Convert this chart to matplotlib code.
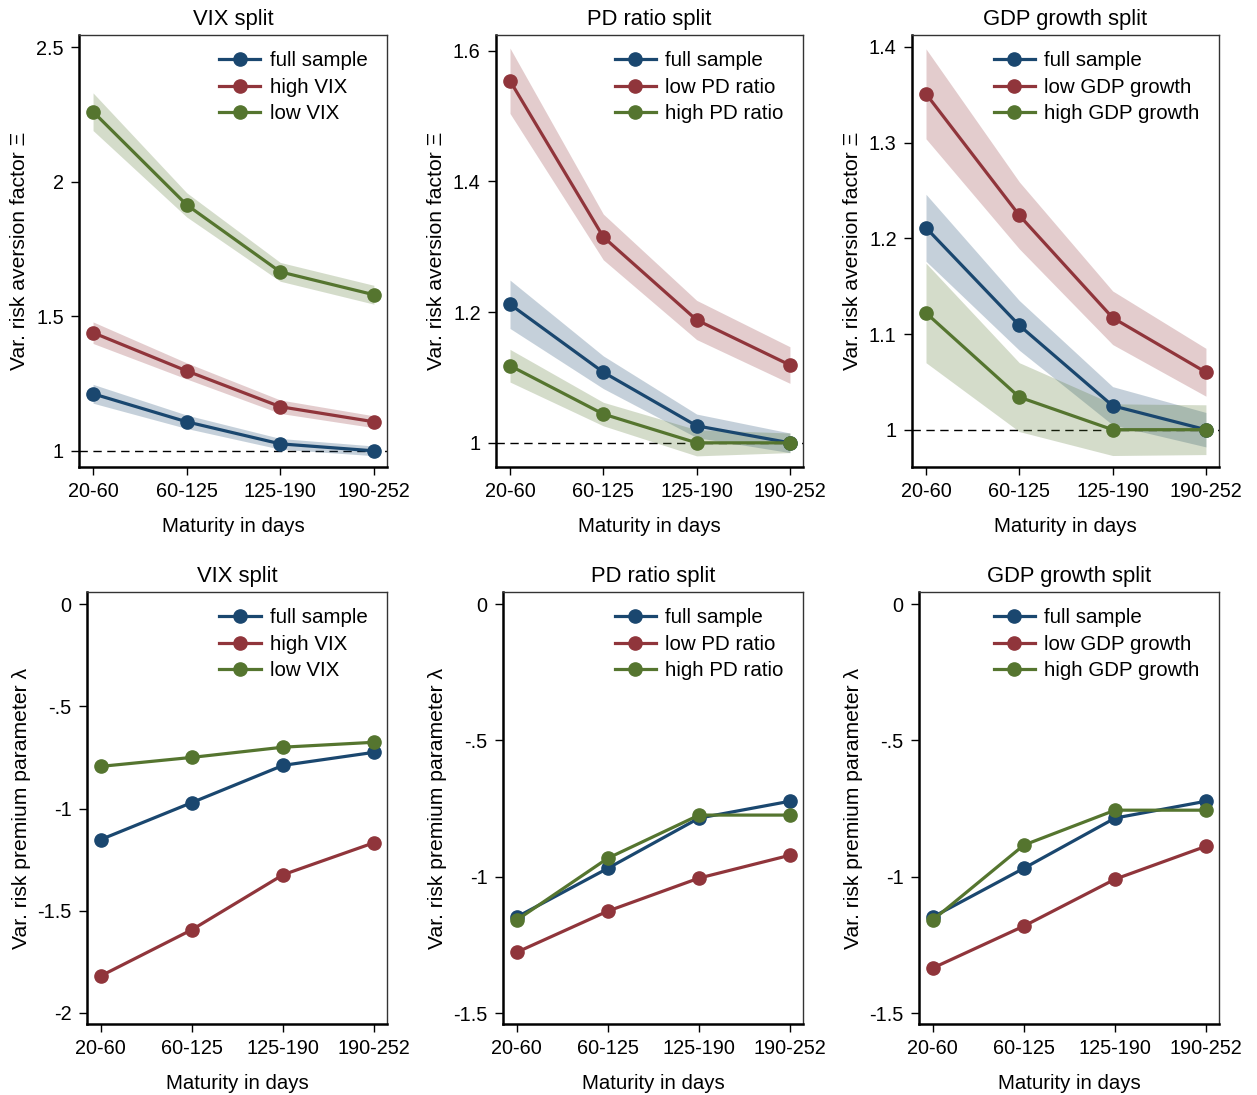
import matplotlib
matplotlib.use("Agg")
import matplotlib.pyplot as plt
import numpy as np

plt.rcParams['font.family'] = ['Liberation Sans', 'DejaVu Sans']

maturities = ["20-60", "60-125", "125-190", "190-252"]

# Top row: variance risk aversion factor (point, band half-width)
vix_full = [1.212, 1.108, 1.026, 1.0]
vix_full_ci = [0.035, 0.025, 0.02, 0.018]
vix_high = [1.439, 1.297, 1.164, 1.108]
vix_high_ci = [0.04, 0.03, 0.025, 0.022]
vix_low = [2.26, 1.914, 1.665, 1.58]
vix_low_ci = [0.07, 0.045, 0.035, 0.035]

pd_full = [1.212, 1.108, 1.026, 1.0]
pd_full_ci = [0.037, 0.025, 0.018, 0.015]
pd_low = [1.554, 1.315, 1.188, 1.119]
pd_low_ci = [0.05, 0.035, 0.03, 0.028]
pd_high = [1.118, 1.044, 1.0, 1.0]
pd_high_ci = [0.025, 0.018, 0.02, 0.015]

gdp_full = [1.211, 1.109, 1.025, 1.0]
gdp_full_ci = [0.035, 0.026, 0.02, 0.018]
gdp_low = [1.351, 1.224, 1.117, 1.06]
gdp_low_ci = [0.047, 0.035, 0.028, 0.025]
gdp_high = [1.122, 1.034, 1.0, 1.0]
gdp_high_ci = [0.052, 0.036, 0.027, 0.026]

# Bottom row: variance risk premium parameter lambda
lam_vix_full = [-1.152, -0.971, -0.789, -0.725]
lam_vix_high = [-1.819, -1.593, -1.324, -1.167]
lam_vix_low = [-0.794, -0.75, -0.70, -0.676]

lam_pd_full = [-1.148, -0.969, -0.785, -0.723]
lam_pd_low = [-1.277, -1.126, -1.005, -0.921]
lam_pd_high = [-1.159, -0.932, -0.774, -0.774]

lam_gdp_full = [-1.148, -0.969, -0.785, -0.723]
lam_gdp_low = [-1.335, -1.181, -1.009, -0.888]
lam_gdp_high = [-1.159, -0.884, -0.756, -0.756]

NAVY = "#1a476f"
MAROON = "#90353b"
GREEN = "#55752f"

W, H = 1257, 1095
fig = plt.figure(figsize=(W / 100, H / 100), dpi=100)


def make_ax(l, r, t, b):
    return fig.add_axes([l / W, 1 - b / H, (r - l) / W, (b - t) / H])


x = np.arange(len(maturities))

top_specs = [
    ((79, 387, 35, 467), "VIX split", (0.94, 2.545), [1, 1.5, 2, 2.5], ["1", "1.5", "2", "2.5"],
     [("full sample", vix_full, vix_full_ci, NAVY),
      ("high VIX", vix_high, vix_high_ci, MAROON),
      ("low VIX", vix_low, vix_low_ci, GREEN)]),
    ((496, 803, 35, 467), "PD ratio split", (0.963, 1.624), [1, 1.2, 1.4, 1.6], ["1", "1.2", "1.4", "1.6"],
     [("full sample", pd_full, pd_full_ci, NAVY),
      ("low PD ratio", pd_low, pd_low_ci, MAROON),
      ("high PD ratio", pd_high, pd_high_ci, GREEN)]),
    ((912, 1219, 35, 467), "GDP growth split", (0.961, 1.4125), [1, 1.1, 1.2, 1.3, 1.4],
     ["1", "1.1", "1.2", "1.3", "1.4"],
     [("full sample", gdp_full, gdp_full_ci, NAVY),
      ("low GDP growth", gdp_low, gdp_low_ci, MAROON),
      ("high GDP growth", gdp_high, gdp_high_ci, GREEN)]),
]

bottom_specs = [
    ((87, 387, 592, 1024), "VIX split", (-2.054, 0.059), [-2, -1.5, -1, -0.5, 0], ["-2", "-1.5", "-1", "-.5", "0"],
     [("full sample", lam_vix_full, NAVY),
      ("high VIX", lam_vix_high, MAROON),
      ("low VIX", lam_vix_low, GREEN)]),
    ((503, 803, 592, 1024), "PD ratio split", (-1.54, 0.044), [-1.5, -1, -0.5, 0], ["-1.5", "-1", "-.5", "0"],
     [("full sample", lam_pd_full, NAVY),
      ("low PD ratio", lam_pd_low, MAROON),
      ("high PD ratio", lam_pd_high, GREEN)]),
    ((919, 1219, 592, 1024), "GDP growth split", (-1.54, 0.044), [-1.5, -1, -0.5, 0], ["-1.5", "-1", "-.5", "0"],
     [("full sample", lam_gdp_full, NAVY),
      ("low GDP growth", lam_gdp_low, MAROON),
      ("high GDP growth", lam_gdp_high, GREEN)]),
]


def style_ax(ax, title, ylim, yt, ytl, ylabel):
    ax.set_xlim(-0.15, 3.14)
    ax.set_ylim(*ylim)
    ax.set_xticks(x)
    ax.set_xticklabels(maturities, fontsize=14.3)
    ax.set_yticks(yt)
    ax.set_yticklabels(ytl, fontsize=14.3)
    ax.tick_params(direction='out', length=6, width=1.0, color='black', pad=5)
    ax.set_title(title, fontsize=15.8, pad=7)
    ax.set_xlabel("Maturity in days", fontsize=14.7, labelpad=11)
    ax.set_ylabel(ylabel, fontsize=15.2, labelpad=5)
    for s in ['left', 'bottom']:
        ax.spines[s].set_linewidth(1.8)
        ax.spines[s].set_color('black')
    for s in ['top', 'right']:
        ax.spines[s].set_linewidth(1.0)
        ax.spines[s].set_color('#333333')


def add_legend(ax):
    ax.legend(loc='upper right', frameon=False, fontsize=14.8, handlelength=2.0,
              handletextpad=0.45, labelspacing=0.36, borderaxespad=0.4,
              bbox_to_anchor=(0.99, 1.0))


for (box, title, ylim, yt, ytl, series) in top_specs:
    ax = make_ax(*box)
    ax.axhline(1.0, color='black', lw=1.0, ls=(0, (6, 4)), zorder=1)
    for label, vals, ci, col in series:
        v = np.array(vals)
        c = np.array(ci)
        ax.fill_between(x, v - c, v + c, color=col, alpha=0.25, lw=0, zorder=2)
    for label, vals, ci, col in series:
        ax.plot(x, vals, color=col, lw=2.3, marker='o', ms=9.5, label=label, zorder=3)
    style_ax(ax, title, ylim, yt, ytl, "Var. risk aversion factor \u039e")
    add_legend(ax)

for (box, title, ylim, yt, ytl, series) in bottom_specs:
    ax = make_ax(*box)
    for label, vals, col in series:
        ax.plot(x, vals, color=col, lw=2.3, marker='o', ms=9.5, label=label, zorder=3)
    style_ax(ax, title, ylim, yt, ytl, "Var. risk premium parameter \u03bb")
    add_legend(ax)

fig.savefig("out.png", dpi=100)
